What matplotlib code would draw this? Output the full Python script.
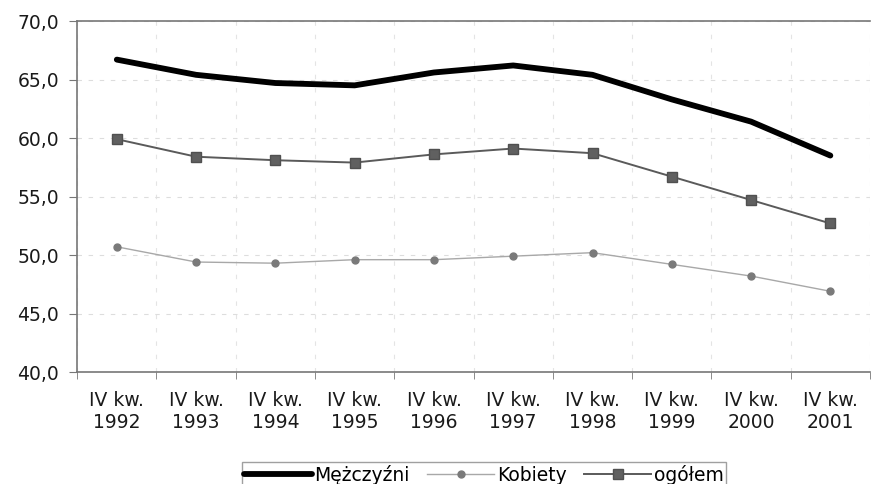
import matplotlib
matplotlib.use("Agg")
import matplotlib.pyplot as plt
import numpy as np

plt.rcParams['font.family'] = ['DejaVu Sans']

years = ["1992", "1993", "1994", "1995", "1996", "1997", "1998", "1999", "2000", "2001"]
labels = ["IV kw.\n" + y for y in years]
mezczyzni = [66.7, 65.4, 64.7, 64.5, 65.6, 66.2, 65.4, 63.3, 61.4, 58.5]
kobiety = [50.7, 49.4, 49.3, 49.6, 49.6, 49.9, 50.2, 49.2, 48.2, 46.9]
ogolem = [59.9, 58.4, 58.1, 57.9, 58.6, 59.1, 58.7, 56.7, 54.7, 52.7]

fig = plt.figure(figsize=(8.77, 4.84), dpi=100)
ax = fig.add_axes([0.088, 0.2314, 0.904, 0.7252])
x = np.arange(len(years))

ax.plot(x, mezczyzni, color="black", lw=4.2, solid_capstyle="round", label="Mężczyźni", zorder=4)
ax.plot(x, kobiety, color="#a8a8a8", lw=1.0, marker="o", ms=5, mfc="#7a7a7a", mec="#7a7a7a",
        label="Kobiety", zorder=3)
ax.plot(x, ogolem, color="#5a5a5a", lw=1.4, marker="s", ms=7, mfc="#606060", mec="#505050",
        label="ogółem", zorder=3)

ax.set_xlim(-0.5, len(years) - 0.5)
ax.set_ylim(40, 70)
ax.set_yticks(np.arange(40, 71, 5))
ax.set_yticklabels([f"{v:.1f}".replace(".", ",") for v in np.arange(40, 71, 5)], fontsize=13.5, color="#1a1a1a")
ax.set_xticks(x)
ax.set_xticklabels(labels, fontsize=13.5, color="#1a1a1a", linespacing=1.2)
ax.set_xticks(np.arange(-0.5, len(years), 1), minor=True)
ax.tick_params(axis="x", which="major", length=0, pad=14)
ax.tick_params(axis="x", which="minor", length=5, color="#777777", direction="out")
ax.tick_params(axis="y", length=6, color="#777777", direction="out", pad=7)

ax.grid(True, axis="y", color="#dddddd", ls=(0, (4, 6)), lw=0.8)
ax.grid(True, axis="x", which="minor", color="#e4e4e4", ls=(0, (4, 8)), lw=0.8)
ax.set_axisbelow(True)

for s in ["left", "bottom", "top"]:
    ax.spines[s].set_color("#777777")
    ax.spines[s].set_linewidth(1.2)
ax.spines["right"].set_visible(False)

leg = fig.legend(loc="upper center", bbox_to_anchor=(0.552, 0.064), ncol=3, fontsize=13.5,
                 frameon=True, fancybox=False, edgecolor="#888888", handlelength=3.6,
                 handletextpad=0.15, columnspacing=0.9, borderpad=0.12)
leg.get_frame().set_linewidth(1.0)

fig.savefig("out.png", dpi=100)
